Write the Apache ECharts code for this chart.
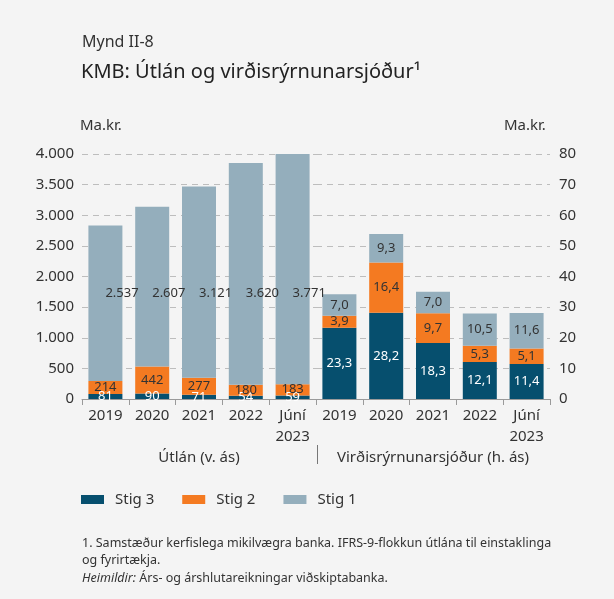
<!DOCTYPE html>
<html>
<head>
<meta charset="utf-8">
<script src="https://cdn.jsdelivr.net/npm/echarts@6/dist/echarts.min.js"></script>
<style>
  html, body { margin: 0; padding: 0; background: #f4f4f4; }
  #chart { width: 614px; height: 599px; }
</style>
</head>
<body>
<div id="chart"></div>
<script>
// Categories (same periods for both panels)
const loanCats = ['2019', '2020', '2021', '2022', 'Júní\n2023'];
const provCats = ['2019', '2020', '2021', '2022', 'Júní\n2023'];

// Útlán, ma.kr. (left axis)
const loanStig3 = [81, 90, 71, 54, 59];
const loanStig2 = [214, 442, 277, 180, 183];
const loanStig1 = [2537, 2607, 3121, 3620, 3771];

// Virðisrýrnunarsjóður, ma.kr. (right axis)
const provStig3 = [23.3, 28.2, 18.3, 12.1, 11.4];
const provStig2 = [3.9, 16.4, 9.7, 5.3, 5.1];
const provStig1 = [7.0, 9.3, 7.0, 10.5, 11.6];

const seriesNames = ['Stig 3', 'Stig 2', 'Stig 1'];
const leftTicks = { min: 0, max: 4000, interval: 500 };
const rightTicks = { min: 0, max: 80, interval: 10 };

const COLORS = ['#064f6e', '#f47a21', '#94aebc'];
const FONT = 'Noto Sans';
const TXT = '#333333';

// plot area
const PLOT_TOP = 154, PLOT_H = 245, LEFT = 82, HALF_W = 234;

const fmtThousands = v => String(Math.round(v)).replace(/\B(?=(\d{3})+(?!\d))/g, '.');
const fmtDec = v => v.toFixed(1).replace('.', ',');

// Stig 1 loan labels sit on a common level across the bars
const LOAN_LABEL_LEVEL = 1730;
const loanLabelY = PLOT_TOP + PLOT_H - LOAN_LABEL_LEVEL / leftTicks.max * PLOT_H;

function barSeries(name, data, color, axisIdx, stack, fmt, labelColor, extra) {
  return Object.assign({
    name: name,
    type: 'bar',
    stack: stack,
    xAxisIndex: axisIdx,
    yAxisIndex: axisIdx,
    barWidth: 34,
    data: data,
    itemStyle: { color: color },
    label: {
      show: true,
      position: 'inside',
      color: labelColor,
      fontFamily: FONT,
      fontSize: 13,
      formatter: p => fmt(p.value)
    }
  }, extra || {});
}

const chart = echarts.init(document.getElementById('chart'), null, { renderer: 'canvas' });

const xAxisBase = gi => ({
  type: 'category',
  gridIndex: gi,
  data: gi === 0 ? loanCats : provCats,
  axisLine: { show: true, lineStyle: { color: '#9a9a9a', width: 1 } },
  axisTick: { show: true, alignWithLabel: false, length: 6, lineStyle: { color: '#9a9a9a' } },
  axisLabel: { color: TXT, fontFamily: FONT, fontSize: 15, lineHeight: 21, margin: 6 },
  splitLine: { show: false }
});

const yAxisBase = (gi, ticks, pos, fmt) => ({
  type: 'value',
  gridIndex: gi,
  position: pos,
  min: ticks.min, max: ticks.max, interval: ticks.interval,
  axisLine: { show: false },
  axisTick: { show: false },
  axisLabel: { color: TXT, fontFamily: FONT, fontSize: 15, margin: pos === 'left' ? 8 : 9, formatter: fmt },
  splitLine: { show: true, lineStyle: { color: '#bdbdbd', type: [6, 5], width: 1 } }
});

chart.setOption({
  backgroundColor: '#f4f4f4',
  animation: false,
  textStyle: { fontFamily: FONT },
  grid: [
    { left: LEFT, top: PLOT_TOP, width: HALF_W, height: PLOT_H },
    { left: LEFT + HALF_W, top: PLOT_TOP, width: HALF_W, height: PLOT_H }
  ],
  xAxis: [xAxisBase(0), xAxisBase(1)],
  yAxis: [
    yAxisBase(0, leftTicks, 'left', fmtThousands),
    yAxisBase(1, rightTicks, 'right', v => String(v))
  ],
  legend: {
    left: 76, top: 487,
    itemWidth: 23, itemHeight: 9, itemGap: 28,
    icon: 'rect',
    data: seriesNames,
    textStyle: { color: TXT, fontFamily: FONT, fontSize: 15, padding: [0, 0, 0, 6] }
  },
  series: [
    barSeries('Stig 3', loanStig3, COLORS[0], 0, 'utlan', fmtThousands, '#ffffff'),
    barSeries('Stig 2', loanStig2, COLORS[1], 0, 'utlan', fmtThousands, TXT),
    barSeries('Stig 1', loanStig1, COLORS[2], 0, 'utlan', fmtThousands, TXT, {
      labelLayout: () => ({ y: loanLabelY, verticalAlign: 'middle' })
    }),
    barSeries('Stig 3', provStig3, COLORS[0], 1, 'vrs', fmtDec, '#ffffff'),
    barSeries('Stig 2', provStig2, COLORS[1], 1, 'vrs', fmtDec, TXT),
    barSeries('Stig 1', provStig1, COLORS[2], 1, 'vrs', fmtDec, TXT)
  ],
  graphic: [
    { type: 'text', left: 82, top: 34, style: { text: 'Mynd II-8', fill: TXT, font: '16px "Noto Sans"' } },
    { type: 'text', left: 81, top: 62, style: { text: 'KMB: Útlán og virðisrýrnunarsjóður¹', fill: '#222222', font: '20px "Noto Sans"' } },
    { type: 'text', left: 80, top: 118, style: { text: 'Ma.kr.', fill: TXT, font: '15px "Noto Sans"' } },
    { type: 'text', left: 504, top: 118, style: { text: 'Ma.kr.', fill: TXT, font: '15px "Noto Sans"' } },
    { type: 'text', x: LEFT + HALF_W / 2, y: 458, style: { text: 'Útlán (v. ás)', fill: TXT, font: '15px "Noto Sans"', align: 'center', verticalAlign: 'middle' } },
    { type: 'text', x: LEFT + HALF_W * 1.5, y: 458, style: { text: 'Virðisrýrnunarsjóður (h. ás)', fill: TXT, font: '15px "Noto Sans"', align: 'center', verticalAlign: 'middle' } },
    { type: 'line', shape: { x1: 317.5, y1: 445, x2: 317.5, y2: 464 }, style: { stroke: '#777777', lineWidth: 1 } },
    { type: 'text', left: 82, top: 535, style: { text: '1. Samstæður kerfislega mikilvægra banka. IFRS-9-flokkun útlána til einstaklinga\nog fyrirtækja.', fill: TXT, font: '12.5px "Noto Sans"', lineHeight: 17 } },
    { type: 'text', left: 82, top: 572, style: {
        text: '{i|Heimildir:} Árs- og árshlutareikningar viðskiptabanka.',
        fill: TXT, font: '12.5px "Noto Sans"',
        rich: { i: { fontStyle: 'italic', fontFamily: FONT, fontSize: 12.5, fill: TXT } }
    } }
  ]
});
</script>
</body>
</html>
